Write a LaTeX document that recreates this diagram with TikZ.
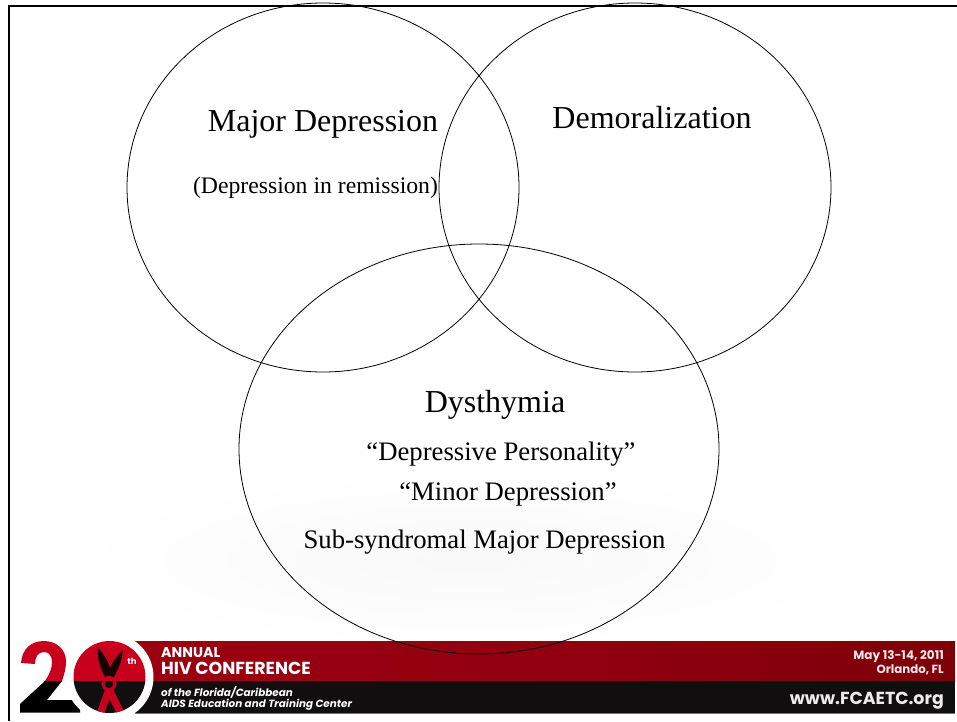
\documentclass[tikz,border=0pt]{standalone}
\usepackage{fontspec}
\setmainfont{Liberation Serif}
\setsansfont{Poppins}
\usetikzlibrary{shapes.geometric}
\definecolor{bred}{HTML}{9A0010}
\definecolor{bredd}{HTML}{7C0008}
\definecolor{bblack}{HTML}{100E0E}
\definecolor{lred}{HTML}{C8001E}
\tikzset{
  venn/.style={ellipse,draw=black,line width=0.8pt,inner sep=0pt,fill=none},
  bigtxt/.style={font=\fontsize{32}{34}\selectfont,inner sep=0pt,anchor=base,text=black},
  midtxt/.style={font=\fontsize{26.7}{30}\selectfont,inner sep=0pt,anchor=base,text=black},
  smalltxt/.style={font=\fontsize{23.7}{26}\selectfont,inner sep=0pt,anchor=base,text=black},
  bannertxt/.style={font=\sffamily\bfseries,inner sep=0pt,text=white}
}
\newcommand{\twoshape}{(21,663) .. controls (22,649) and (31,641) .. (44,641) .. controls (57,641) and (66,650) .. (66,661) .. controls (66,669) and (64,675) .. (62,681) -- (47,700) -- (80,700) -- (80,712.5) -- (20,712.5) -- (20,704) -- (45,681) .. controls (49,675) and (52,669) .. (52,662) .. controls (52,656) and (49,652) .. (44,652) .. controls (38,652) and (35,657) .. (35,664) -- cycle}
\begin{document}
\begin{tikzpicture}[x=1pt,y=-1pt]
\useasboundingbox (0,0) rectangle (957,721);
\fill[white] (0,0) rectangle (957,721);
% faint watermark
\shade[inner color=black!2.5,outer color=white] (470,560) ellipse [x radius=400,y radius=90];
% slide frame
\draw[line width=2pt,black] (8.5,721) -- (8.5,5.5) -- (957,5.5);
% banner
\shade[left color=bred,right color=bredd,middle color=bred!95!black] (135,641) rectangle (955,681);
\fill[bblack] (135,681) rectangle (955,713);
\fill[black!55] (135,713) rectangle (955,714);
% figure 2
\begin{scope}
\clip (10,635) rectangle (100,681);
\fill[lred] \twoshape;
\end{scope}
\begin{scope}
\clip (10,681) rectangle (100,721);
\fill[black] \twoshape;
\end{scope}
% white disc behind the logo
\fill[white] (109.5,677) circle[radius=44];
% logo disc
\begin{scope}
\clip (109.5,677) circle[radius=36];
\fill[lred] (70,640) rectangle (150,681);
\fill[bblack] (70,681) rectangle (150,716);
\fill[black!90!red] (98,648) .. controls (97,658) and (100,668) .. (105,677) -- (114,677) .. controls (119,668) and (122,660) .. (123,650) .. controls (118,655) and (113,661) .. (110,668) .. controls (108,661) and (104,654) .. (98,648) -- cycle;
\draw[lred,line width=3pt] (109,677) .. controls (100,680) and (102,689) .. (109,691) .. controls (116,689) and (118,680) .. (109,677);
\fill[lred] (113,690) -- (106,687) -- (97,712) -- (104,714) -- cycle;
\fill[lred] (105,690) -- (112,687) -- (124,711) -- (117,714) -- cycle;
\end{scope}
\node[bannertxt,font=\sffamily\bfseries\fontsize{8.5}{9}\selectfont] (th) at (132,661.5) {th};
% banner texts
\node[bannertxt,anchor=base west,font=\sffamily\bfseries\fontsize{14.2}{15}\selectfont] (annual) at (161,657) {ANNUAL};
\node[bannertxt,anchor=base west,font=\sffamily\bfseries\fontsize{17.4}{18}\selectfont] (hiv) at (161,674.5) {HIV CONFERENCE};
\node[bannertxt,anchor=base west,font=\sffamily\bfseries\itshape\fontsize{10.4}{11}\selectfont] (fl) at (161,696) {of the Florida/Caribbean};
\node[bannertxt,anchor=base west,font=\sffamily\bfseries\itshape\fontsize{10.4}{11}\selectfont] (aids) at (161,707) {AIDS Education and Training Center};
\node[bannertxt,anchor=base east,text=white!90!red,font=\sffamily\bfseries\fontsize{12}{13}\selectfont] (may) at (944,659) {May 13-14, 2011};
\node[bannertxt,anchor=base east,text=white!90!red,font=\sffamily\bfseries\fontsize{11.8}{13}\selectfont] (orl) at (944,673) {Orlando, FL};
\node[bannertxt,anchor=base east,text=white!92!black,font=\sffamily\bfseries\fontsize{17.4}{18}\selectfont] (web) at (944,704.5) {www.FCAETC.org};
% venn circles
\node[venn,minimum width=392pt,minimum height=369pt] (major) at (323,187.5) {};
\node[venn,minimum width=392pt,minimum height=369pt] (demor) at (635,187.5) {};
\node[venn,minimum width=480pt,minimum height=410pt] (dys) at (479,449) {};
% labels
\node[bigtxt] (t1) at (323,131) {Major Depression};
\node[smalltxt] (t2) at (315.5,193) {(Depression in remission)};
\node[bigtxt] (t3) at (652,128) {Demoralization};
\node[bigtxt] (t4) at (495,412.5) {Dysthymia};
\node[midtxt] (t5) at (501,460) {“Depressive Personality”};
\node[midtxt] (t6) at (508,500.5) {“Minor Depression”};
\node[midtxt] (t7) at (484.5,548.5) {Sub-syndromal Major Depression};
\end{tikzpicture}
\end{document}
